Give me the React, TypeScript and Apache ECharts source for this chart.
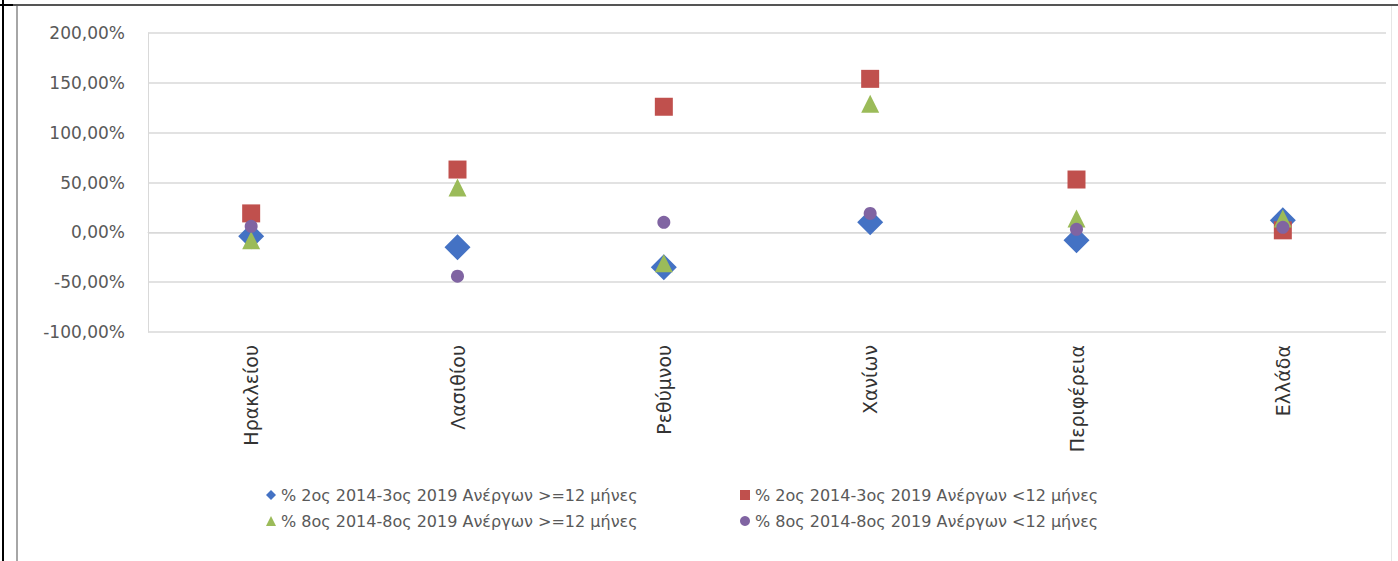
import React, { useEffect, useRef } from "react";
import * as echarts from "echarts";

const categories = ["Ηρακλείου", "Λασιθίου", "Ρεθύμνου", "Χανίων", "Περιφέρεια", "Ελλάδα"];
const seriesNames = [
  "% 2ος 2014-3ος 2019 Ανέργων >=12 μήνες",
  "% 2ος 2014-3ος 2019 Ανέργων <12 μήνες",
  "% 8ος 2014-8ος 2019 Ανέργων >=12 μήνες",
  "% 8ος 2014-8ος 2019 Ανέργων <12 μήνες",
];
const q2LongTerm = [-4, -15, -35, 10, -8, 12];
const q2ShortTerm = [19, 63, 126, 154, 53, 2];
const m8LongTerm = [-8, 45, -31, 129, 14, 14];
const m8ShortTerm = [6, -44, 10, 19, 3, 5];
const yMin = -100;
const yMax = 200;
const yStep = 50;

const colors = ["#4472C4", "#C0504D", "#9BBB59", "#8064A2"];
const symbols = ["diamond", "rect", "triangle", "circle"];
const sizes = [26, 18, 18, 13];
const values = [q2LongTerm, q2ShortTerm, m8LongTerm, m8ShortTerm];

export default function App() {
  const ref = useRef<HTMLDivElement>(null);
  useEffect(() => {
    if (!ref.current) return;
    const chart = echarts.init(ref.current, undefined, { renderer: "svg" });
    const legendPos = [
      { left: 266, top: 487 },
      { left: 740, top: 487 },
      { left: 266, top: 513 },
      { left: 740, top: 513 },
    ];
    chart.setOption({
      animation: false,
      backgroundColor: "#ffffff",
      grid: { left: 148, right: 12, top: 33, bottom: 229, containLabel: false },
      xAxis: {
        type: "category",
        data: categories,
        axisTick: { show: false },
        axisLine: { lineStyle: { color: "#d9d9d9" } },
        axisLabel: {
          rotate: 90,
          margin: 13,
          color: "#333333",
          fontFamily: "DejaVu Sans",
          fontSize: 19,
        },
      },
      yAxis: {
        type: "value",
        min: yMin,
        max: yMax,
        interval: yStep,
        axisLine: { show: true, lineStyle: { color: "#d9d9d9" } },
        axisTick: { show: false },
        splitLine: { lineStyle: { color: "#d9d9d9", width: 1.5 } },
        axisLabel: {
          margin: 23,
          color: "#595959",
          fontFamily: "DejaVu Sans",
          fontSize: 17,
          formatter: (v: number) => v.toFixed(2).replace(".", ",") + "%",
        },
      },
      legend: seriesNames.map((n, i) => ({
        data: [{ name: n, icon: symbols[i] }],
        left: legendPos[i].left,
        top: legendPos[i].top,
        padding: 0,
        itemWidth: 10,
        itemHeight: 10,
        itemGap: 4,
        textStyle: { color: "#595959", fontFamily: "DejaVu Sans", fontSize: 16 },
      })),
      series: seriesNames.map((n, i) => ({
        name: n,
        type: "scatter",
        data: values[i],
        symbol: symbols[i],
        symbolSize: sizes[i],
        itemStyle: { color: colors[i], opacity: 1 },
        z: 2 + i,
      })),
      graphic: [
        { type: "rect", shape: { x: 2, y: 0, width: 2, height: 561 }, style: { fill: "#000000" } },
        { type: "rect", shape: { x: 0, y: 4, width: 1398, height: 2 }, style: { fill: "#555555" } },
        { type: "rect", shape: { x: 0, y: 4, width: 13, height: 2 }, style: { fill: "#000000" } },
        { type: "rect", shape: { x: 16, y: 6, width: 2, height: 555 }, style: { fill: "#a6a6a6" } },
        { type: "rect", shape: { x: 1391, y: 6, width: 1, height: 555 }, style: { fill: "#e6e6e6" } },
      ],
    });
    return () => chart.dispose();
  }, []);
  return (
    <div
      ref={ref}
      style={{ position: "absolute", left: 0, top: 0, width: 1398, height: 561 }}
    />
  );
}
